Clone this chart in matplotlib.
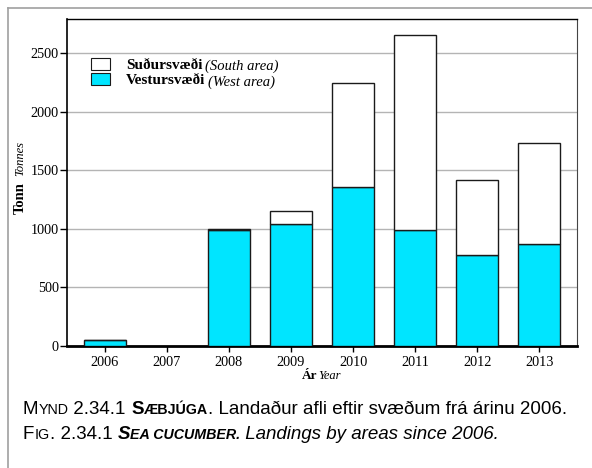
import matplotlib
matplotlib.use("Agg")
import matplotlib.pyplot as plt
from matplotlib.lines import Line2D
from matplotlib.patches import Patch

years = ["2006", "2007", "2008", "2009", "2010", "2011", "2012", "2013"]
west = [50, 3, 992, 1038, 1359, 987, 774, 868]
south = [2, 0, 8, 116, 888, 1669, 642, 861]
yticks = [0, 500, 1000, 1500, 2000, 2500]

cyan = "#00E5FF"
serif = "Liberation Serif"
sans = "Liberation Sans"

fig = plt.figure(figsize=(5.92, 4.68), dpi=100)
ax = fig.add_axes([67/592, 1-346/468, (577-67)/592, (346-19)/468])

x = list(range(len(years)))
ax.bar(x, west, width=0.67, color=cyan, edgecolor="#1a1a1a", linewidth=1.0, zorder=3)
ax.bar(x, south, width=0.67, bottom=west, color="white", edgecolor="#1a1a1a", linewidth=1.0, zorder=3)

ax.set_xlim(-0.61, 7.61)
ax.set_ylim(0, 2790)
ax.set_yticks(yticks)
ax.set_xticks(x)
ax.set_xticklabels(years)
ax.yaxis.grid(True, color="#b4b4b4", linewidth=1.0, zorder=0)
ax.set_axisbelow(True)
for lab in ax.get_xticklabels() + ax.get_yticklabels():
    lab.set_fontfamily(serif)
    lab.set_fontsize(10.3)
ax.tick_params(axis="y", length=5, width=1, pad=1)
ax.tick_params(axis="x", length=4, width=1, pad=3)
ax.spines["bottom"].set_linewidth(2)
ax.spines["left"].set_linewidth(1.2)
ax.spines["top"].set_linewidth(1.0)
ax.spines["right"].set_color("#444444")

# legend
handles = [Patch(facecolor="white", edgecolor="#1a1a1a", linewidth=0.8),
           Patch(facecolor=cyan, edgecolor="#1a1a1a", linewidth=0.8)]
leg = ax.legend(handles, ["Suðursvæði", "Vestursvæði"], loc="upper left",
                bbox_to_anchor=(0.02, 0.923), frameon=False,
                prop={"family": serif, "weight": "bold", "size": 11},
                handlelength=1.25, handleheight=0.8, labelspacing=0.08, handletextpad=1.05)
fig.canvas.draw()
r = fig.canvas.get_renderer()
for t, extra in zip(leg.get_texts(), ["(South area)", "(West area)"]):
    bb = t.get_window_extent(r)
    fig.text(bb.x1 + 3, (bb.y0 + bb.y1)/2 - 1, extra, family=serif, style="italic",
             size=10.5, va="center", ha="left", transform=None)

# axis labels
fig.text(20/592, 1-198/468, "Tonn", family=serif, weight="bold", size=10.5,
         rotation=90, ha="center", va="center")
fig.text(20/592, 1-159/468, "Tonnes", family=serif, style="italic", size=9,
         rotation=90, ha="center", va="center")
fig.text(302/592, 1-376/468, "Ár", family=serif, weight="bold", size=9.5,
         ha="left", va="center")
fig.text(318/592, 1-376/468, "Year", family=serif, style="italic", size=9,
         ha="left", va="center")

# caption with small caps emulation
def write_parts(parts, x0, y0):
    xpix = x0
    for txt, kw in parts:
        t = fig.text(xpix, y0, txt, transform=None, va="baseline", ha="left", family=sans, **kw)
        fig.canvas.draw()
        bb = t.get_window_extent(fig.canvas.get_renderer())
        xpix = bb.x1

H = 468
big = 13.5
small = 10.3
write_parts([("M", dict(size=big)), ("YND", dict(size=small)), (" 2.34.1 ", dict(size=big)),
             ("S", dict(size=big, weight="bold")), ("ÆBJÚGA", dict(size=small, weight="bold")),
             (". Landaður afli eftir svæðum frá árinu 2006.", dict(size=big))],
            23, H - 414)
write_parts([("F", dict(size=big)), ("IG", dict(size=small)), (". 2.34.1 ", dict(size=big)),
             ("S", dict(size=big, weight="bold", style="italic")),
             ("EA CUCUMBER.", dict(size=small, weight="bold", style="italic")),
             (" Landings by areas since 2006.", dict(size=big, style="italic"))],
            23, H - 439)

# outer frame lines
fig.add_artist(Line2D([7.5/592, 7.5/592], [0, 1-7.5/468], color="#a0a0a0", linewidth=1.2, transform=fig.transFigure))
fig.add_artist(Line2D([7.5/592, 1], [1-7.5/468, 1-7.5/468], color="#a0a0a0", linewidth=1.2, transform=fig.transFigure))

fig.savefig("out.png", dpi=100)
